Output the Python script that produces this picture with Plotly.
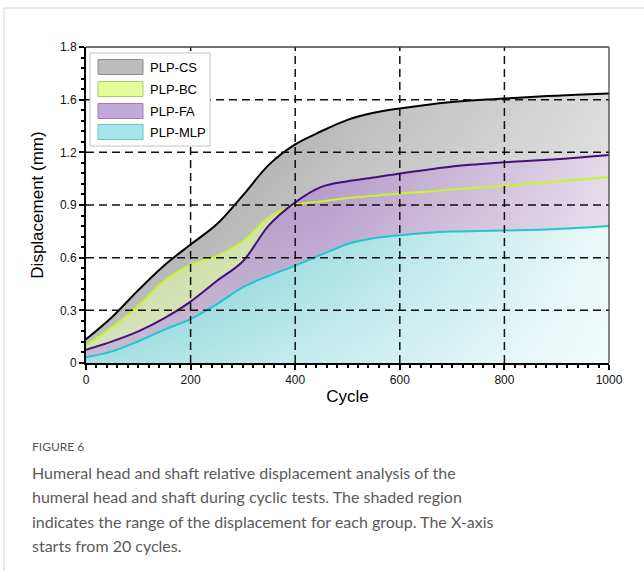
import plotly.graph_objects as go

# ---- data ----
cycles = [0, 50, 100, 150, 200, 250, 300, 350, 400, 450, 500, 550, 600, 650, 700,
          750, 800, 850, 900, 950, 1000]
plp_cs = [0.135, 0.262, 0.415, 0.557, 0.675, 0.79, 0.955, 1.13, 1.245, 1.32, 1.385,
          1.425, 1.45, 1.47, 1.486, 1.498, 1.507, 1.515, 1.523, 1.529, 1.535]
plp_bc = [0.10, 0.205, 0.325, 0.47, 0.56, 0.61, 0.695, 0.83, 0.90, 0.92, 0.94,
          0.952, 0.966, 0.976, 0.988, 0.999, 1.01, 1.022, 1.035, 1.047, 1.06]
plp_fa = [0.075, 0.123, 0.18, 0.255, 0.35, 0.467, 0.58, 0.785, 0.915, 1.003, 1.035,
          1.056, 1.08, 1.10, 1.119, 1.132, 1.143, 1.152, 1.161, 1.172, 1.185]
plp_mlp = [0.032, 0.066, 0.124, 0.19, 0.25, 0.335, 0.432, 0.497, 0.555, 0.617, 0.678,
           0.71, 0.728, 0.741, 0.749, 0.752, 0.755, 0.758, 0.763, 0.771, 0.78]

series_names = ["PLP-CS", "PLP-BC", "PLP-FA", "PLP-MLP"]
series_values = [plp_cs, plp_bc, plp_fa, plp_mlp]

x_tickvals = [0, 200, 400, 600, 800, 1000]
y_tickvals = [0, 0.3, 0.6, 0.9, 1.2, 1.5, 1.8]
y_ticktext = ["0", "0.3", "0.6", "0.9", "1.2", "1.6", "1.8"]
x_grid = [200, 400, 600, 800]
y_grid = [0.3, 0.6, 0.9, 1.2, 1.5]

caption_head = "FIGURE 6"
caption_lines = [
    "Humeral head and shaft relative displacement analysis of the",
    "humeral head and shaft during cyclic tests. The shaded region",
    "indicates the range of the displacement for each group. The X-axis",
    "starts from 20 cycles.",
]

# ---- styles ----
FONT = "Liberation Sans"
line_colors = ["#000000", "#c6f52c", "#44107f", "#1fc6cc"]
fill_scales = [
    [[0, "#8e8e8e"], [0.5, "#bababa"], [1, "#dcdcdc"]],
    [[0, "#b9cd8a"], [0.5, "#d6e6a8"], [1, "#ecf6d0"]],
    [[0, "#9c88ac"], [0.45, "#b095c6"], [1, "#e3d9e8"]],
    [[0, "#5cc6cc"], [0.5, "#a6e0e3"], [1, "#ecf9f9"]],
]
white_fade = [[0, "rgba(255,255,255,0.45)"], [1, "rgba(255,255,255,0)"]]
swatch_fill = ["#bcbcbc", "#e4fd98", "#c3a9d9", "#a6e6e9"]
swatch_line = ["#8c8c8c", "#a8d060", "#9a80b0", "#70c0c4"]

PX_L, PX_R, PX_T, PX_B = 86, 609, 47, 363


def px_x(px):
    return (px - PX_L) / (PX_R - PX_L)


def px_y(py):
    return (PX_B - py) / (PX_B - PX_T)


fig = go.Figure()

for name, vals, scale in zip(series_names, series_values, fill_scales):
    fig.add_trace(go.Scatter(
        x=cycles, y=vals, name=name, mode="lines",
        line=dict(width=0, shape="spline", smoothing=1.0),
        fill="tozeroy",
        fillgradient=dict(type="horizontal", colorscale=scale, start=0, stop=1000),
        showlegend=False, hoverinfo="skip",
    ))
    fig.add_trace(go.Scatter(
        x=cycles, y=vals, mode="lines",
        line=dict(width=0, shape="spline", smoothing=1.0),
        fill="tozeroy",
        fillgradient=dict(type="vertical", colorscale=white_fade, start=0, stop=max(vals)),
        showlegend=False, hoverinfo="skip",
    ))

for name, vals, col in zip(series_names, series_values, line_colors):
    fig.add_trace(go.Scatter(
        x=cycles, y=vals, mode="lines", showlegend=False,
        line=dict(color=col, width=2, shape="spline", smoothing=1.0),
        hoverinfo="skip",
    ))

dash = "8px,5px"
shapes = []
for xv in x_grid:
    shapes.append(dict(type="line", xref="x", yref="paper", x0=xv, x1=xv, y0=0, y1=1,
                       line=dict(color="#111111", width=1.5, dash=dash), layer="above"))
for yv in y_grid:
    shapes.append(dict(type="line", xref="paper", yref="y", x0=0, x1=1, y0=yv, y1=yv,
                       line=dict(color="#111111", width=1.5, dash=dash), layer="above"))
# top / right frame of plot
shapes.append(dict(type="line", xref="paper", yref="paper", x0=0, x1=1, y0=1, y1=1,
                   line=dict(color="#444444", width=1.3), layer="above"))
shapes.append(dict(type="line", xref="paper", yref="paper", x0=1, x1=1, y0=0, y1=1,
                   line=dict(color="#444444", width=1.3), layer="above"))
# page frame
shapes.append(dict(type="line", xref="paper", yref="paper", x0=px_x(4), x1=px_x(4),
                   y0=px_y(8), y1=px_y(575), line=dict(color="#d4d4d4", width=1)))
shapes.append(dict(type="line", xref="paper", yref="paper", x0=px_x(4), x1=px_x(650),
                   y0=px_y(8), y1=px_y(8), line=dict(color="#d4d4d4", width=1)))

# legend box (drawn manually)
shapes.append(dict(type="rect", xref="paper", yref="paper",
                   x0=px_x(90), x1=px_x(210), y0=px_y(146), y1=px_y(53),
                   fillcolor="white", line=dict(color="#c4c4c4", width=1), layer="above"))
annotations = []
row_centers = [67, 89, 111, 132]
for name, rc, sf, sl in zip(series_names, row_centers, swatch_fill, swatch_line):
    shapes.append(dict(type="rect", xref="paper", yref="paper",
                       x0=px_x(98), x1=px_x(143), y0=px_y(rc + 7.5), y1=px_y(rc - 7.5),
                       fillcolor=sf, line=dict(color=sl, width=1), layer="above"))
    annotations.append(dict(text=name, xref="paper", yref="paper", x=px_x(148), y=px_y(rc),
                            xanchor="left", yanchor="middle", showarrow=False,
                            font=dict(family=FONT, size=13, color="#000000")))

annotations.append(dict(text=caption_head, xref="paper", yref="paper",
                        x=px_x(30), y=px_y(446), xanchor="left", yanchor="middle",
                        showarrow=False, font=dict(family="Lato", size=12, color="#555555")))
for i, t in enumerate(caption_lines):
    yc = 472 + i * 24.5
    annotations.append(dict(text=t, xref="paper", yref="paper",
                            x=px_x(30), y=px_y(yc),
                            xanchor="left", yanchor="middle", showarrow=False,
                            font=dict(family="Lato", size=16, color="#5a5a5a")))

fig.update_layout(
    width=644, height=571,
    margin=dict(l=PX_L, r=644 - PX_R, t=PX_T, b=571 - PX_B),
    paper_bgcolor="white", plot_bgcolor="white",
    showlegend=False,
    font=dict(family=FONT, size=12, color="#000000"),
    xaxis=dict(range=[0, 1000], tickvals=x_tickvals, showgrid=False, zeroline=False,
               showline=True, linecolor="#000000", linewidth=2,
               ticks="outside", ticklen=5, tickwidth=1.5, tickcolor="#000000",
               minor=dict(dtick=20, tick0=0, ticks="outside", ticklen=3,
                          tickcolor="#000000", showgrid=False),
               title=dict(text="Cycle", font=dict(family=FONT, size=17), standoff=4),
               tickfont=dict(family=FONT, size=12, color="#111111"), layer="above traces"),
    yaxis=dict(range=[0, 1.8], tickvals=y_tickvals, ticktext=y_ticktext, showgrid=False,
               zeroline=False, showline=True, linecolor="#000000", linewidth=2,
               ticks="outside", ticklen=5, tickwidth=1.5, tickcolor="#000000",
               minor=dict(dtick=0.06, tick0=0, ticks="outside", ticklen=3,
                          tickcolor="#000000", showgrid=False),
               title=dict(text="Displacement (mm)", font=dict(family=FONT, size=17),
                          standoff=12),
               tickfont=dict(family=FONT, size=12, color="#111111"), layer="above traces"),
    shapes=shapes, annotations=annotations,
)

fig.write_html("out.html")
